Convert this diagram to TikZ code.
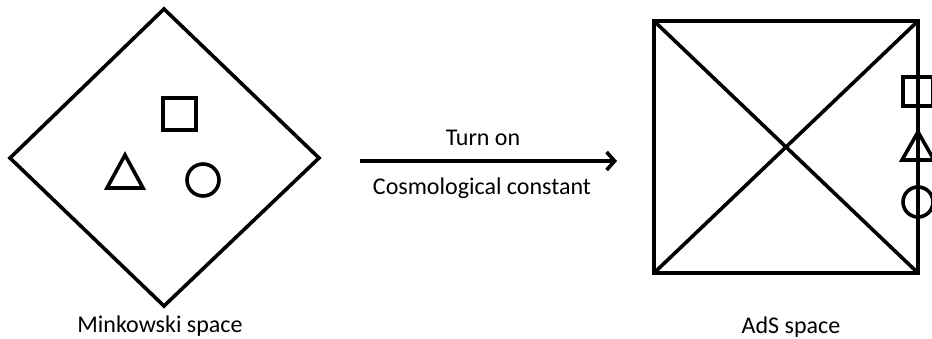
\documentclass[tikz,border=0pt]{standalone}
\usepackage{fontspec}
\setmainfont{Carlito}
\usetikzlibrary{arrows.meta}

\begin{document}
\begin{tikzpicture}[x=1pt,y=-1pt,
    thickline/.style={line width=3.6pt,black},
    spacetext/.style={font=\fontsize{24}{28}\selectfont,inner sep=0pt}]
    \useasboundingbox (0,0) rectangle (932,339);
    \clip (0,0) rectangle (932,339);
    % Minkowski diamond
    \coordinate (mtop) at (164,9);
    \coordinate (mleft) at (10,158);
    \coordinate (mright) at (319,158);
    \coordinate (mbottom) at (164,306);
    \draw[thickline,line join=miter] (mtop) -- (mright) -- (mbottom) -- (mleft) -- cycle;
    \draw[thickline] (163,98) rectangle (196,130);
    \draw[thickline,line join=miter] (125,155) -- (143,188) -- (107,188) -- cycle;
    \draw[thickline] (203,180) circle (16);
    \node[spacetext] (mlabel) at (160,326) {Minkowski space};

    % arrow
    \coordinate (astart) at (360,161);
    \coordinate (aend) at (617,161);
    \draw[thickline,-{Straight Barb[length=8pt,width=18pt,line width=3.6pt]}] (astart) -- (aend);
    \node[spacetext] (turnon) at (483,138) {Turn on};
    \node[spacetext] (cosmo) at (482,188) {Cosmological constant};

    % AdS box
    \coordinate (atl) at (654,21);
    \coordinate (atr) at (918,21);
    \coordinate (abr) at (918,273);
    \coordinate (abl) at (654,273);
    \draw[thickline,line join=miter] (atl) -- (atr) -- (abr) -- (abl) -- cycle;
    \draw[thickline] (atl) -- (abr);
    \draw[thickline] (atr) -- (abl);
    \draw[thickline] (903,77) rectangle (933,106);
    \draw[thickline,line join=miter] (918,132) -- (934,160) -- (902,160) -- cycle;
    \draw[thickline] (918,202) circle (15);
    \node[spacetext] (adslabel) at (791,327) {AdS space};
  \end{tikzpicture}
\end{document}
